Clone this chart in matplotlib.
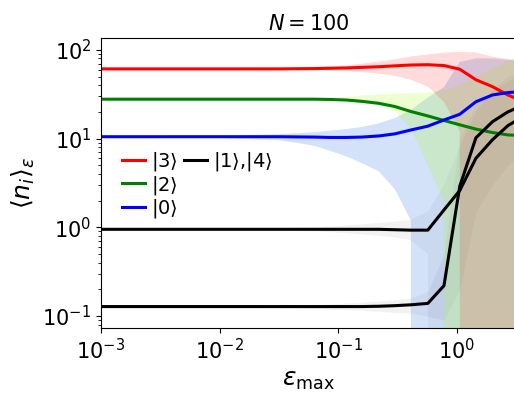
import numpy as np
import matplotlib
matplotlib.use('Agg')
import matplotlib.pyplot as plt
from matplotlib.lines import Line2D
from matplotlib.ticker import NullLocator

# ####################################################################
# DATA
eps = [0.001, 0.0032, 0.01, 0.032, 0.063, 0.085, 0.117, 0.158, 0.219, 0.30,
       0.41, 0.57, 0.78, 1.06, 1.45, 2.0, 2.7, 3.7]

n3 = [61, 61, 61, 61, 61.5, 62, 62.5, 63.5, 64.5, 66, 67.5, 68, 66.5, 60.5, 46, 38.5, 31, 26]
n3_hi = [62, 62, 62, 63, 64, 65, 67, 70, 74, 78, 84, 89, 93, 95, 93, 84, 79, 76]
n3_lo = [60, 60, 60, 59.5, 59, 58.5, 57.5, 56, 54, 51, 46, 38.5, 26, 12, 0, 0, 0, 0]

n2 = [27.8, 27.8, 27.8, 27.8, 27.8, 27.6, 27.2, 26.3, 25, 23, 20.2, 18, 16, 14.3, 12.8, 11.7, 11.0, 10.8]
n2_hi = [28, 28, 28, 28.2, 28.5, 28.8, 29.5, 30.5, 31.5, 32, 32.5, 33, 35, 40, 50, 62, 75, 85]
n2_lo = [27.6, 27.6, 27.6, 27.4, 27.1, 26.8, 26.2, 25.2, 23.5, 20.5, 13, 5, 2, 0, 0, 0, 0, 0]

n0 = [10.5, 10.5, 10.5, 10.5, 10.4, 10.3, 10.3, 10.4, 10.7, 11.3, 12.5, 13.8, 16.2, 18.8, 26, 31, 33, 34]
n0_hi = [10.7, 10.7, 10.8, 11.2, 11.8, 12.3, 12.8, 13.5, 14.8, 17, 21, 29, 38, 73, 80, 80, 77, 75]
n0_lo = [10.3, 10.3, 10.2, 9.6, 8.3, 7.3, 6.3, 5.3, 4.3, 2.7, 1.2, 0, 0, 0, 0, 0, 0, 0]

n1 = [0.95, 0.95, 0.95, 0.95, 0.95, 0.95, 0.95, 0.95, 0.95, 0.94, 0.93, 0.93, 1.57, 2.6, 6.0, 9.7, 14.0, 18]
n1_hi = [0.96, 0.96, 0.97, 0.98, 1.0, 1.02, 1.05, 1.08, 1.12, 1.16, 1.22, 1.5, 3, 8, 20, 35, 50, 60]
n1_lo = [0.94, 0.94, 0.93, 0.92, 0.9, 0.88, 0.86, 0.83, 0.8, 0.77, 0.72, 0.5, 0, 0, 0, 0, 0, 0]

n4 = [0.128, 0.128, 0.128, 0.128, 0.128, 0.128, 0.128, 0.128, 0.129, 0.131, 0.134, 0.139, 0.22, 2.9, 10.2, 15.5, 20, 24]
n4_hi = [0.129, 0.129, 0.13, 0.132, 0.135, 0.137, 0.14, 0.143, 0.148, 0.153, 0.16, 0.19, 0.5, 10, 25, 35, 45, 55]
n4_lo = [0.127, 0.127, 0.126, 0.124, 0.122, 0.12, 0.118, 0.116, 0.113, 0.11, 0.108, 0.1, 0.09, 0.2, 1.5, 3, 5, 7]
# ####################################################################

fig = plt.figure(figsize=(5.14, 3.97), dpi=100)
ax = fig.add_axes([0.1965, 0.1738, 0.8075, 0.7305])

# shaded spreads
ax.fill_between(eps, n1_lo, n1_hi, color='black', alpha=0.05, lw=0)
ax.fill_between(eps, n4_lo, n4_hi, color='black', alpha=0.05, lw=0)
ax.fill_between(eps, n0_lo, n0_hi, color='cornflowerblue', alpha=0.28, lw=0)
ax.fill_between(eps, n2_lo, n2_hi, color='greenyellow', alpha=0.22, lw=0)
ax.fill_between(eps, n3_lo, n3_hi, color='red', alpha=0.14, lw=0)

l3, = ax.plot(eps, n3, color='red', lw=2.2)
l2, = ax.plot(eps, n2, color='green', lw=2.2)
l0, = ax.plot(eps, n0, color='blue', lw=2.2)
l1, = ax.plot(eps, n1, color='black', lw=2.2)
ax.plot(eps, n4, color='black', lw=2.2)

ax.set_xscale('log')
ax.set_yscale('log')
ax.set_xlim(1e-3, 10**0.5)
ax.set_ylim(0.0734, 136)
ax.xaxis.set_minor_locator(NullLocator())
ax.tick_params(labelsize=15)

ax.set_title(r'$N = 100$', fontsize=15)
ax.set_xlabel(r'$\varepsilon_{\mathrm{max}}$', fontsize=18)
ax.set_ylabel(r'$\langle n_i \rangle_\varepsilon$', fontsize=18)

blank = Line2D([], [], alpha=0)
ax.legend([l3, l2, l0, l1, blank, blank],
          [r'$|3\rangle$', r'$|2\rangle$', r'$|0\rangle$', r'$|1\rangle{,}|4\rangle$', '', ''],
          ncol=2, frameon=False, fontsize=14, loc='upper left',
          bbox_to_anchor=(0.017, 0.66), handlelength=1.2, handletextpad=0.3,
          columnspacing=0.3, labelspacing=0.02, borderaxespad=0.3)

plt.savefig('out.png', dpi=100)
